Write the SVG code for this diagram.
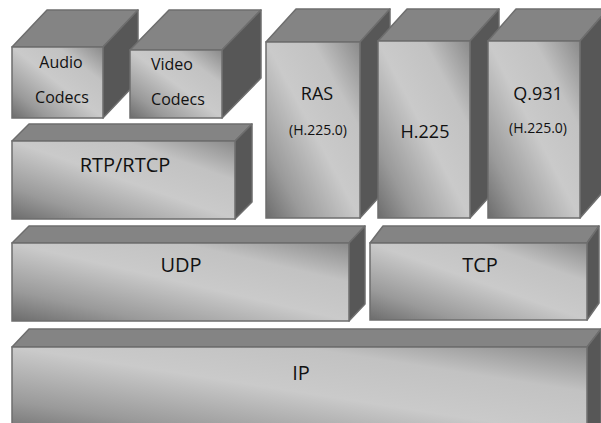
<svg xmlns="http://www.w3.org/2000/svg" width="601" height="423" viewBox="0 0 601 423">
<defs>
<linearGradient id="g" x1="0" y1="1" x2="1" y2="0">
<stop offset="0" stop-color="#6c6c6c"/>
<stop offset="0.2" stop-color="#9a9a9a"/>
<stop offset="0.5" stop-color="#cacaca"/>
<stop offset="0.75" stop-color="#c2c2c2"/>
<stop offset="1" stop-color="#8a8a8a"/>
</linearGradient>
</defs>
<style>
.f{fill:url(#g);stroke:#6e6e6e;stroke-width:1.5}
.t{fill:#848484;stroke:#6e6e6e;stroke-width:1.5;stroke-linejoin:round}
.s{fill:#575757;stroke:#6e6e6e;stroke-width:1.5;stroke-linejoin:round}
text{font-family:"Open Sans","Noto Sans",sans-serif;fill:#111;text-anchor:middle}
.l{font-size:20px}
.m{font-size:18px}
.c{font-size:16px}
.sm{font-size:14px}
</style>
<rect width="601" height="423" fill="#fff"/>
<g id="audio">
<polygon class="t" points="12,47 47,10 138,10 103,47"/>
<polygon class="s" points="103,47 138,10 138,81 103,118"/>
<rect class="f" x="12" y="47" width="91" height="71"/>
<text class="c" x="61" y="68">Audio</text>
<text class="c" x="62" y="103">Codecs</text>
</g>
<g id="video">
<polygon class="t" points="130,50 169,10 261,10 222,50"/>
<polygon class="s" points="222,50 261,10 261,78 222,118"/>
<rect class="f" x="130" y="50" width="92" height="68"/>
<text class="c" x="172" y="70">Video</text>
<text class="c" x="178" y="105">Codecs</text>
</g>
<g id="rtp">
<polygon class="t" points="12,141 29,124 252,124 235,141"/>
<polygon class="s" points="235,141 252,124 252,202 235,219"/>
<rect class="f" x="12" y="141" width="223" height="78"/>
<text class="l" x="125" y="172">RTP/RTCP</text>
</g>
<g id="ras">
<polygon class="t" points="266,42 296,9 390,9 360,42"/>
<polygon class="s" points="360,42 390,9 390,185 360,218"/>
<rect class="f" x="266" y="42" width="94" height="176"/>
<text class="m" x="317" y="100">RAS</text>
<text class="sm" x="318" y="135">(H.225.0)</text>
</g>
<g id="h225">
<polygon class="t" points="378,41 407,9 499,9 470,41"/>
<polygon class="s" points="470,41 499,9 499,186 470,218"/>
<rect class="f" x="378" y="41" width="92" height="177"/>
<text class="m" x="425" y="138">H.225</text>
</g>
<g id="q931">
<polygon class="t" points="488,41 516,9 608,9 580,41"/>
<polygon class="s" points="580,41 608,9 608,186 580,218"/>
<rect class="f" x="488" y="41" width="92" height="177"/>
<text class="m" x="538" y="100">Q.931</text>
<text class="sm" x="538" y="133">(H.225.0)</text>
</g>
<g id="udp">
<polygon class="t" points="12,243 29,226 365,226 349,243"/>
<polygon class="s" points="349,243 365,226 365,304 349,321"/>
<rect class="f" x="12" y="243" width="337" height="78"/>
<text class="l" x="181" y="272">UDP</text>
</g>
<g id="tcp">
<polygon class="t" points="370,243 383,226 599,226 587,243"/>
<polygon class="s" points="587,243 599,226 599,303 587,320"/>
<rect class="f" x="370" y="243" width="217" height="77"/>
<text class="l" x="480" y="272">TCP</text>
</g>
<g id="ip">
<polygon class="t" points="12,347 29,329 601,329 587,347"/>
<polygon class="s" points="587,347 601,329 601,430 587,430"/>
<rect class="f" x="12" y="347" width="575" height="90"/>
<text class="l" x="301" y="380">IP</text>
</g>
<g id="connectors"/>
</svg>
